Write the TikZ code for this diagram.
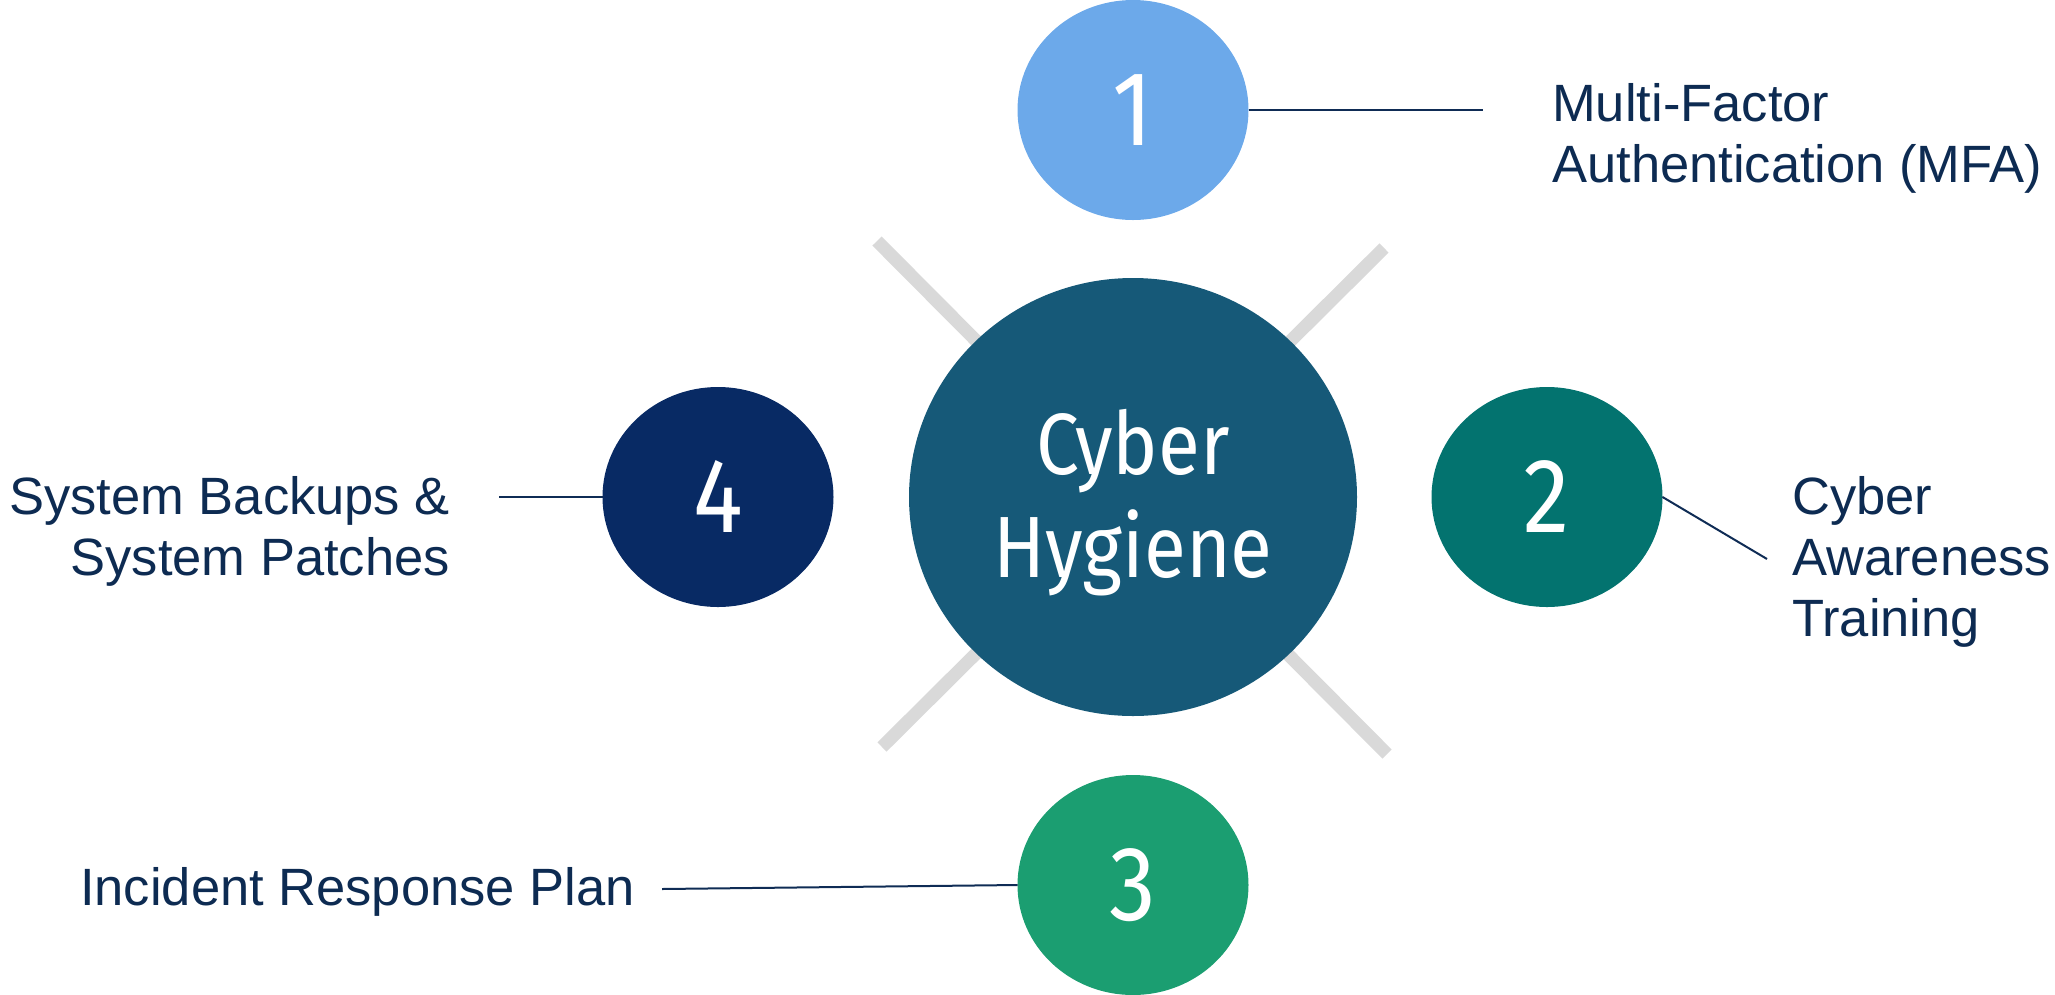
\documentclass[tikz,border=0pt]{standalone}
\usepackage{fontspec}
\setmainfont{Liberation Sans}
\newfontfamily\digitfont[FakeStretch=0.88]{Fira Sans}
\usetikzlibrary{shapes.geometric}

\definecolor{hubcol}{HTML}{165978}
\definecolor{onecol}{HTML}{6CA9EA}
\definecolor{twocol}{HTML}{03736F}
\definecolor{threecol}{HTML}{1B9E71}
\definecolor{fourcol}{HTML}{082A64}
\definecolor{spokegray}{HTML}{D9D9D9}
\definecolor{labelcol}{HTML}{0D2B52}
\definecolor{linkcol}{HTML}{0F2C55}

\begin{document}
\begin{tikzpicture}[x=1pt,y=-1pt,
  bubble/.style={ellipse, inner sep=0pt, outer sep=0pt,
    minimum width=231pt, minimum height=220pt, text=white,
    font=\digitfont\fontsize{106}{106}\selectfont},
  leader/.style={draw=linkcol, line width=2pt},
  caption/.style={text=labelcol, inner sep=0pt,
    font=\fontsize{52.5}{61}\selectfont},
  spoke/.style={draw=spokegray, line width=13pt}]

\useasboundingbox (0,0) rectangle (2055,994);

% grey cross behind the hub
\draw[spoke] (877,241) -- (1387,754);
\draw[spoke] (1384,248) -- (882,747);

% central hub
\node[ellipse, fill=hubcol, inner sep=0pt, outer sep=0pt,
  minimum width=448pt, minimum height=438pt] (hub) at (1133,497) {};
\node[text=white, inner sep=0pt, anchor=base,
  font=\digitfont\fontsize{87}{103}\selectfont] (hubtext) at (1133,474)
  {\begin{tabular}[t]{@{}c@{}}Cyber\\Hygiene\end{tabular}};

% numbered bubbles
\node[bubble, fill=onecol]   (n1) at (1133,110) {1};
\node[bubble, fill=twocol]   (n2) at (1547,497) {2};
\node[bubble, fill=threecol] (n3) at (1133,885) {3};
\node[bubble, fill=fourcol]  (n4) at (718,497)  {4};

% captions
\node[caption, anchor=base west] (t1) at (1552,121.5)
  {\begin{tabular}[t]{@{}l@{}}Multi-Factor\\Authentication (MFA)\end{tabular}};
\node[caption, anchor=base west] (t2) at (1792,514)
  {\begin{tabular}[t]{@{}l@{}}Cyber\\Awareness\\Training\end{tabular}};
\node[caption, anchor=base west] (t3) at (80,905.7)
  {Incident Response Plan};
\node[caption, anchor=base east] (t4) at (450,514)
  {\begin{tabular}[t]{@{}r@{}}System Backups \&\\System Patches\end{tabular}};

% leader lines
\coordinate (e1) at (1483,110);
\coordinate (e2) at (1767,559);
\coordinate (e3) at (662,889);
\coordinate (e4) at (499,497);
\draw[leader] (n1.east) -- (e1);
\draw[leader] (n2.east) -- (e2);
\draw[leader] (e3) -- (n3.west);
\draw[leader] (e4) -- (n4.west);
\end{tikzpicture}
\end{document}
